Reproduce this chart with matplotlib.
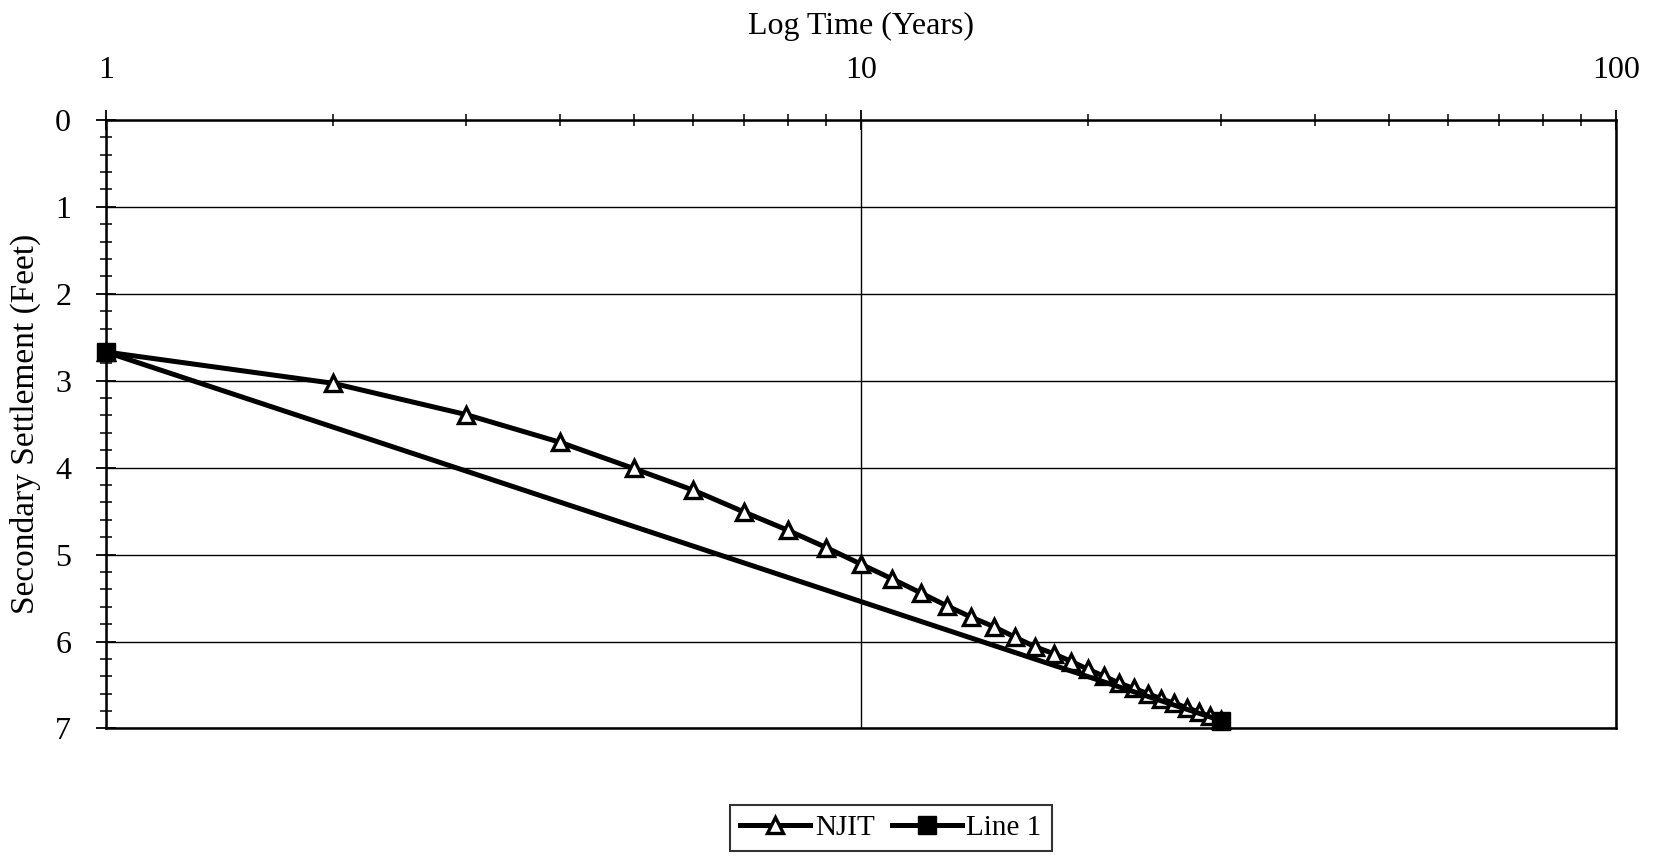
import numpy as np
import matplotlib
matplotlib.use("Agg")
import matplotlib.pyplot as plt
from matplotlib.ticker import LogLocator, MultipleLocator, NullFormatter

plt.rcParams["font.family"] = ["Liberation Serif", "DejaVu Serif"]

# NJIT secondary settlement curve (years, feet)
njit_years = list(range(1, 31))
njit_settlement = [2.67, 3.03, 3.39, 3.71, 4.01, 4.26, 4.51, 4.72, 4.92, 5.11,
                   5.28, 5.44, 5.59, 5.72, 5.83, 5.95, 6.06, 6.14, 6.23, 6.32,
                   6.40, 6.48, 6.54, 6.60, 6.66, 6.71, 6.76, 6.81, 6.86, 6.90]

# Line 1: straight line on log scale between end points
line1_years = [1, 30]
line1_settlement = [2.67, 6.91]

x_ticks = [1, 10, 100]
y_ticks = [0, 1, 2, 3, 4, 5, 6, 7]

fig = plt.figure(figsize=(16.54, 8.56), dpi=100)
ax = fig.add_axes([0.064, 0.149, 0.913, 0.711])

ax.plot(njit_years, njit_settlement, color="black", lw=3.6, marker="^",
        ms=12, mfc="white", mec="black", mew=2.4, label="NJIT", zorder=3,
        clip_on=False)
ax.plot(line1_years, line1_settlement, color="black", lw=3.6, marker="s",
        ms=13, mfc="black", mec="black", label="Line 1", zorder=4,
        clip_on=False)

ax.set_xscale("log")
ax.set_xlim(1, 100)
ax.set_ylim(7, 0)

ax.xaxis.set_ticks_position("top")
ax.xaxis.set_label_position("top")
ax.set_xticks(x_ticks)
ax.set_xticklabels([str(t) for t in x_ticks])
ax.xaxis.set_minor_locator(LogLocator(base=10, subs=np.arange(2, 10)))
ax.xaxis.set_minor_formatter(NullFormatter())
ax.set_yticks(y_ticks)
ax.yaxis.set_minor_locator(MultipleLocator(0.2))

ax.tick_params(axis="x", which="major", direction="inout", length=14,
               width=1.3, labelsize=23, pad=18)
ax.tick_params(axis="y", which="major", direction="inout", length=14,
               width=1.3, labelsize=23, pad=18)
ax.tick_params(axis="both", which="minor", direction="inout", length=9,
               width=1.1)

ax.grid(True, which="major", color="black", lw=1.0)
for s in ax.spines.values():
    s.set_linewidth(1.8)

ax.set_xlabel("Log Time (Years)", fontsize=23, labelpad=16)
ax.set_ylabel("Secondary Settlement (Feet)", fontsize=24, labelpad=10)

leg = ax.legend(loc="upper center", bbox_to_anchor=(0.52, -0.125), ncol=2,
                fontsize=21, frameon=True, fancybox=False, edgecolor="black",
                handlelength=2.4, handletextpad=0.15, columnspacing=0.6,
                borderpad=0.35, borderaxespad=0)
leg.get_frame().set_linewidth(1.5)

fig.savefig("out.png", dpi=100, facecolor="white")
